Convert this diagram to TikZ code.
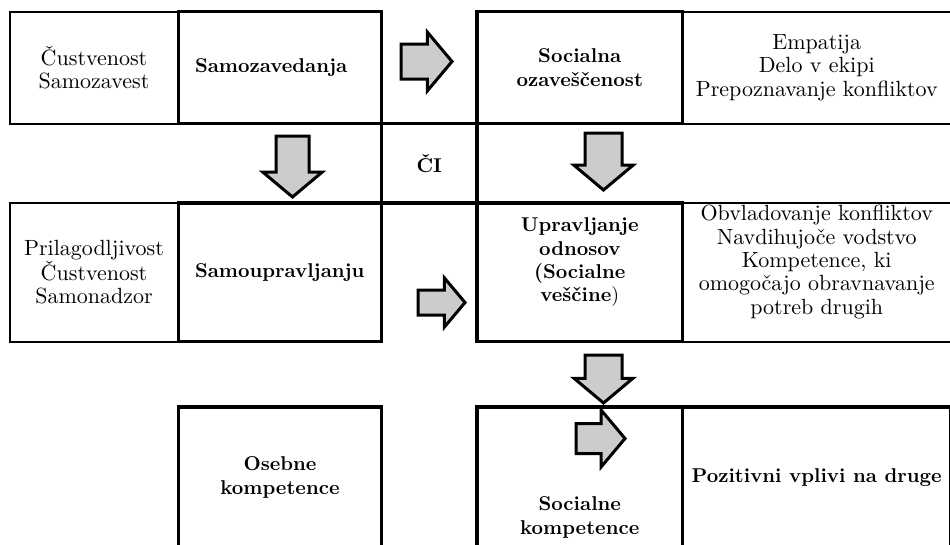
\documentclass[tikz,border=0pt]{standalone}
\usepackage{fontspec}
\setmainfont{lmroman10-regular.otf}[BoldFont=lmroman10-bold.otf]
\usetikzlibrary{shapes.arrows}
\begin{document}
\begin{tikzpicture}[x=1pt,y=-1pt,
  txt/.style={align=center,font=\fontsize{22}{23.3}\selectfont},
  btxt/.style={align=center,font=\fontsize{20}{23.3}\selectfont\bfseries},
  thincell/.style={draw,line width=2pt,inner sep=0pt,txt},
  thickcell/.style={draw,line width=3.5pt,inner sep=0pt,btxt},
  lefttext/.style={text width=170,align=left,inner xsep=16.5},
  blockarrow/.style={single arrow,draw,line width=3pt,fill=black!20,anchor=tail,
    inner xsep=0pt,text height=0pt,text depth=0pt,single arrow tip angle=100}]
\useasboundingbox (0,0) rectangle (950,544);
\clip (0,0) rectangle (950,544);
\node[thincell,minimum width=169,minimum height=112] (custva) at (94,67.5) {Čustvenost\\Samozavest};
\node[thincell,minimum width=268.5,minimum height=112] (empatija) at (816.75,67.5) {Empatija\\Delo v ekipi\\Prepoznavanje konfliktov};
\node[thincell,minimum width=169,minimum height=138.5] (prilag) at (94,272.25) {Prilagodljivost\\Čustvenost\\Samonadzor};
\node[thincell,minimum width=268.5,minimum height=138.5] (obvlad) at (816.75,272.25) {};
\node[txt] (obvlad txt) at (816.75,262) {Obvladovanje konfliktov\\Navdihujoče vodstvo\\Kompetence, ki\\omogočajo obravnavanje\\potreb drugih};
\node[thickcell,lefttext,minimum width=203,minimum height=112] (samozav) at (280,67.5) {Samozavedanja};
\node[thickcell,minimum width=205.5,minimum height=112] (ozav) at (579.75,67.5) {Socialna\\ozaveščenost};
\node[thickcell,minimum width=95.5,minimum height=79.5] (ci) at (429.25,163.25) {ČI};
\node[thickcell,lefttext,minimum width=203,minimum height=138.5] (samoupr) at (280,272.25) {Samoupravljanju};
\node[thickcell,minimum width=205.5,minimum height=138.5] (odnosi) at (579.75,272.25) {};
\node[btxt] (odnosi txt) at (579.75,262.5) {Upravljanje\\odnosov\\(Socialne\\veščine{\mdseries)}};
\node[thickcell,minimum width=203,minimum height=141] (osebne) at (280,477.5) {Osebne\\kompetence};
\node[thickcell,minimum width=205.5,minimum height=141] (sockomp) at (579.75,477.5) {};
\node[btxt] (sockomp txt) at (579.75,517.5) {Socialne\\kompetence};
\node[thickcell,minimum width=268.5,minimum height=141] (vplivi) at (816.75,477.5) {Pozitivni vplivi na druge};
\node[blockarrow,inner ysep=16,minimum height=51,minimum width=56,single arrow head extend=12] (right1) at (399.5,61.5) {};
\node[blockarrow,rotate=-90,inner ysep=15,minimum height=61,minimum width=56,single arrow head extend=13] (down1) at (292.5,134.5) {};
\node[blockarrow,rotate=-90,inner ysep=17,minimum height=57,minimum width=56,single arrow head extend=11] (down2) at (603.5,131.5) {};
\node[blockarrow,inner ysep=11,minimum height=47,minimum width=46,single arrow head extend=12] (right2) at (416.5,302.5) {};
\node[blockarrow,rotate=-90,inner ysep=17,minimum height=48,minimum width=56,single arrow head extend=11] (down3) at (603.5,353.5) {};
\node[blockarrow,inner ysep=13.5,minimum height=49,minimum width=54,single arrow head extend=13.5] (right3) at (574.5,438.5) {};
\end{tikzpicture}
\end{document}
